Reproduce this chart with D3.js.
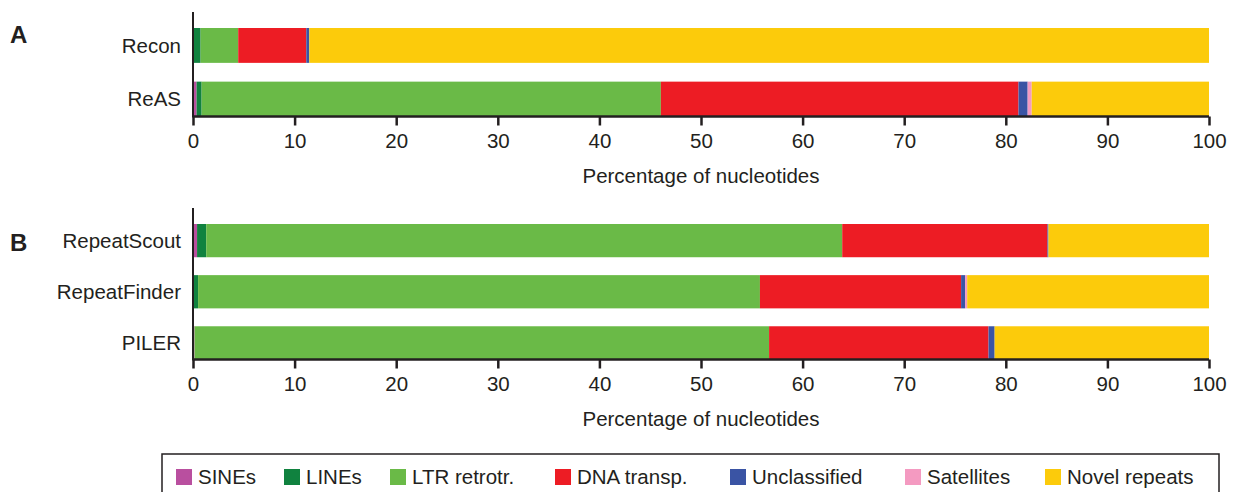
<!DOCTYPE html>
<html>
<head>
<meta charset="utf-8">
<script src="https://cdn.jsdelivr.net/npm/d3@7"></script>
<style>
  body { margin: 0; background: #fff; }
  text { font-family: "Liberation Sans", Arial, sans-serif; fill: #231f20; }
</style>
</head>
<body>
<div id="chart"></div>
<script>
// Repeat classes (stack order) and colours
const types = ["SINEs", "LINEs", "LTR retrotr.", "DNA transp.", "Unclassified", "Satellites", "Novel repeats"];
const colors = ["#b94f9f", "#10823f", "#6aba47", "#ed1c24", "#3a54a4", "#f49ac1", "#fccb0b"];

// Panel A
const methodsA = ["Recon", "ReAS"];
const recon = [0.05, 0.7, 3.7, 6.7, 0.3, 0, 88.55];
const reas  = [0.35, 0.5, 45.2, 35.2, 0.9, 0.4, 17.45];

// Panel B
const methodsB = ["RepeatScout", "RepeatFinder", "PILER"];
const repeatScout  = [0.4, 0.9, 62.6, 20.2, 0.1, 0, 15.8];
const repeatFinder = [0.1, 0.4, 55.3, 19.8, 0.4, 0.2, 23.8];
const piler        = [0.15, 0, 56.55, 21.6, 0.6, 0, 21.1];

const xTicks = d3.range(0, 101, 10);

const width = 1233, height = 492;
const svg = d3.select("#chart").append("svg")
  .attr("width", width)
  .attr("height", height);

const x = d3.scaleLinear().domain([0, 100]).range([193, 1209]);
const color = d3.scaleOrdinal().domain(types).range(colors);

function toRows(names, values) {
  return names.map((name, i) => {
    const row = { name };
    types.forEach((t, j) => (row[t] = values[i][j]));
    return row;
  });
}

// Draw one stacked panel
function drawPanel(letter, names, values, top, bottom, letterY) {
  const rows = toRows(names, values);
  const y = d3.scaleBand().domain(names).range([top, bottom]).paddingInner(0.35).paddingOuter(0);
  const series = d3.stack().keys(types)(rows);
  const g = svg.append("g");

  g.selectAll("g.series")
    .data(series)
    .join("g")
    .attr("class", "series")
    .attr("fill", (d) => color(d.key))
    .selectAll("rect")
    .data((d) => d)
    .join("rect")
    .attr("x", (d) => x(d[0]))
    .attr("y", (d) => y(d.data.name))
    .attr("width", (d) => Math.max(0, x(d[1]) - x(d[0])))
    .attr("height", y.bandwidth());

  // category labels
  g.selectAll("text.cat")
    .data(names)
    .join("text")
    .attr("class", "cat")
    .attr("x", 181)
    .attr("y", (d) => y(d) + y.bandwidth() / 2)
    .attr("dy", "0.36em")
    .attr("text-anchor", "end")
    .attr("font-size", 20.5)
    .text((d) => d);

  // panel letter
  g.append("text")
    .attr("x", 10)
    .attr("y", letterY)
    .attr("font-size", 24)
    .attr("font-weight", "bold")
    .text(letter);

  // left axis line
  g.append("line")
    .attr("x1", x(0)).attr("x2", x(0))
    .attr("y1", top - 16).attr("y2", bottom + 1)
    .attr("stroke", "#231f20").attr("stroke-width", 2);

  // bottom axis
  const axis = g.append("g")
    .attr("transform", `translate(0,${bottom})`)
    .call(d3.axisBottom(x).tickValues(xTicks).tickSize(9).tickPadding(8).tickFormat(d3.format("d")));
  axis.select(".domain").attr("stroke", "#231f20").attr("stroke-width", 2.5)
    .attr("d", `M${x(0)},0H${x(100)}`);
  axis.selectAll(".tick line").attr("stroke", "#231f20").attr("stroke-width", 2.5);
  axis.selectAll(".tick text")
    .attr("font-size", 20.5)
    .attr("font-family", "Liberation Sans, Arial, sans-serif")
    .attr("fill", "#231f20");

  g.append("text")
    .attr("x", (x(0) + x(100)) / 2)
    .attr("y", bottom + 66)
    .attr("text-anchor", "middle")
    .attr("font-size", 20.5)
    .text("Percentage of nucleotides");
}

drawPanel("A", methodsA, [recon, reas], 28, 116.5, 43);
drawPanel("B", methodsB, [repeatScout, repeatFinder, piler], 224, 359.5, 251);

// Legend
const legendX = [176, 284, 390, 555, 730, 905, 1045];
const legend = svg.append("g");
legend.append("rect")
  .attr("x", 162).attr("y", 454)
  .attr("width", 1219 - 162).attr("height", 50)
  .attr("fill", "none").attr("stroke", "#231f20").attr("stroke-width", 1.5);

const items = legend.selectAll("g.item")
  .data(types)
  .join("g")
  .attr("class", "item")
  .attr("transform", (d, i) => `translate(${legendX[i]},469)`);
items.append("rect")
  .attr("width", 16).attr("height", 16)
  .attr("fill", (d) => color(d));
items.append("text")
  .attr("x", 22)
  .attr("y", 15)
  .attr("font-size", 20.5)
  .text((d) => d);
</script>
</body>
</html>
